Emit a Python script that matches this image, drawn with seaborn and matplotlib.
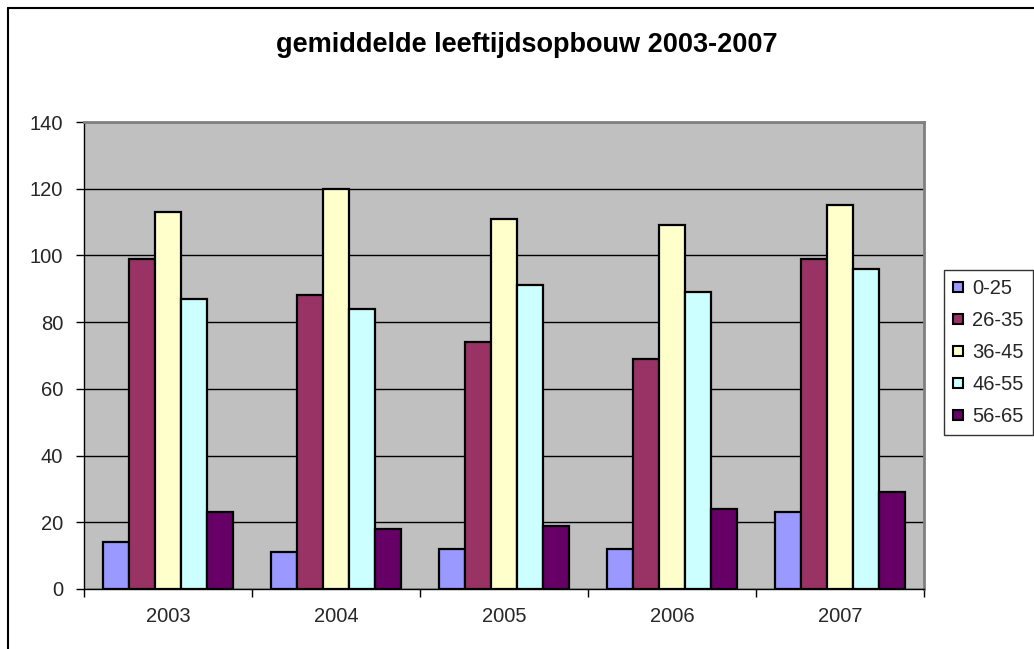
import matplotlib
matplotlib.use("Agg")
import matplotlib.pyplot as plt
from matplotlib.lines import Line2D
import pandas as pd
import seaborn as sns

# Average age structure per year
years = ["2003", "2004", "2005", "2006", "2007"]
age_groups = ["0-25", "26-35", "36-45", "46-55", "56-65"]
v_0_25 = [14, 11, 12, 12, 23]
v_26_35 = [99, 88, 74, 69, 99]
v_36_45 = [113, 120, 111, 109, 115]
v_46_55 = [87, 84, 91, 89, 96]
v_56_65 = [23, 18, 19, 24, 29]
colors = ["#9999FF", "#993366", "#FFFFCC", "#CCFFFF", "#660066"]
y_ticks = [0, 20, 40, 60, 80, 100, 120, 140]

series = [v_0_25, v_26_35, v_36_45, v_46_55, v_56_65]
rows = []
for grp, vals in zip(age_groups, series):
    for yr, v in zip(years, vals):
        rows.append({"jaar": yr, "leeftijd": grp, "aantal": v})
df = pd.DataFrame(rows)

sns.set_theme(style="white")
plt.rcParams["font.family"] = ["Liberation Sans", "DejaVu Sans"]

W, H = 1034, 649
fig = plt.figure(figsize=(W / 100, H / 100), dpi=100)
fig.patch.set_facecolor("white")

# plot area in pixel coordinates
left, right, top, bottom = 84, 924, 122, 589
ax = fig.add_axes([left / W, 1 - bottom / H, (right - left) / W, (bottom - top) / H])
ax.set_facecolor("#C0C0C0")

sns.barplot(data=df, x="jaar", y="aantal", hue="leeftijd", order=years,
            hue_order=age_groups, palette=colors, width=5 / 6.5,
            edgecolor="black", linewidth=1.6, saturation=1, ax=ax,
            legend=False, zorder=3)

ax.set_ylim(0, 140)
ax.set_xlim(-0.5, len(years) - 0.5)
ax.set_yticks(y_ticks)
ax.set_yticklabels([str(t) for t in y_ticks])
ax.yaxis.grid(True, color="black", linewidth=1.0, zorder=0)
ax.set_axisbelow(True)
ax.set_xlabel("")
ax.set_ylabel("")

# category labels centered, tick marks on category boundaries
ax.set_xticks(range(len(years)))
ax.set_xticklabels(years)
ax.set_xticks([i - 0.5 for i in range(len(years) + 1)], minor=True)
ax.tick_params(axis="x", which="major", length=0, pad=13, labelsize=14.5)
ax.tick_params(axis="x", which="minor", length=6, width=1, color="black",
               direction="out", bottom=True)
ax.tick_params(axis="y", which="major", length=6, width=1, color="black",
               direction="out", left=True, pad=9, labelsize=14.5)

for side in ("top", "right"):
    ax.spines[side].set_color("#808080")
    ax.spines[side].set_linewidth(2)
for side in ("left", "bottom"):
    ax.spines[side].set_color("black")
    ax.spines[side].set_linewidth(1)

fig.text(527 / W, 1 - 45 / H, "gemiddelde leeftijdsopbouw 2003-2007",
         ha="center", va="center", fontsize=19.5, fontweight="bold", color="black")

# legend with small square keys
handles = [Line2D([0], [0], marker="s", linestyle="none", markersize=7.5,
                  markerfacecolor=c, markeredgecolor="black", markeredgewidth=1.5)
           for c in colors]
leg = fig.legend(handles, age_groups, loc="upper left",
                 bbox_to_anchor=(944 / W, 1 - 270 / H), frameon=True,
                 fancybox=False, fontsize=14.5, handlelength=0.5,
                 handletextpad=0.45, labelspacing=0.65, borderpad=0.45,
                 borderaxespad=0)
leg.get_frame().set_edgecolor("black")
leg.get_frame().set_linewidth(1)

# outer chart frame
fig.add_artist(Line2D([8 / W, 8 / W], [1 - 8 / H, -0.05], transform=fig.transFigure,
                      color="black", linewidth=1.5))
fig.add_artist(Line2D([8 / W, 1.05], [1 - 8 / H, 1 - 8 / H], transform=fig.transFigure,
                      color="black", linewidth=1.5))

fig.savefig("out.png", dpi=100)
